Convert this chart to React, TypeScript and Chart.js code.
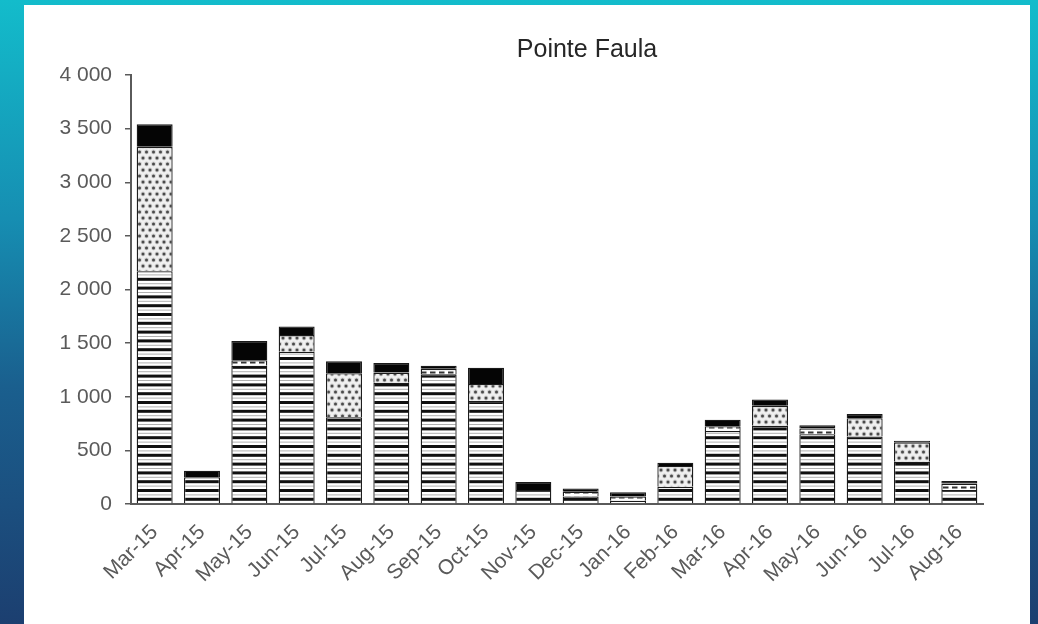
import React, { useEffect, useRef } from "react";
import { Chart, registerables } from "chart.js";

Chart.register(...registerables);

const chartTitle = "Pointe Faula";
const categories = [
  "Mar-15", "Apr-15", "May-15", "Jun-15", "Jul-15", "Aug-15", "Sep-15", "Oct-15", "Nov-15",
  "Dec-15", "Jan-16", "Feb-16", "Mar-16", "Apr-16", "May-16", "Jun-16", "Jul-16", "Aug-16",
];
// stacked bottom -> top
const stripedValues = [2170, 250, 1290, 1420, 810, 1130, 1210, 960, 130, 70, 30, 160, 680, 730, 650, 630, 395, 130];
const dashedValues = [0, 0, 50, 0, 0, 0, 50, 0, 0, 45, 40, 0, 45, 0, 55, 0, 0, 60];
const dottedValues = [1160, 0, 0, 155, 410, 95, 0, 160, 0, 0, 0, 195, 0, 185, 0, 170, 180, 0];
const blackValues = [210, 60, 180, 80, 110, 90, 30, 150, 75, 30, 40, 30, 60, 60, 30, 40, 15, 25];
const yMin = 0;
const yMax = 4000;
const yStep = 500;

const FONT = '"Liberation Sans", Arial, sans-serif';

function makePattern(w: number, h: number, draw: (c: CanvasRenderingContext2D) => void): CanvasPattern {
  const cv = document.createElement("canvas");
  cv.width = w;
  cv.height = h;
  const c = cv.getContext("2d")!;
  draw(c);
  return c.createPattern(cv, "repeat")!;
}

function stripes(c: CanvasRenderingContext2D) {
  c.fillStyle = "#ffffff";
  c.fillRect(0, 0, 8, 44);
  for (let k = 0; k < 5; k++) {
    const y = k * 8.8;
    c.fillStyle = "#101010";
    c.fillRect(0, y, 8, 3);
    c.fillStyle = "#b0b0b0";
    c.fillRect(0, y + 5.4, 8, 1);
  }
}

function dotted(c: CanvasRenderingContext2D) {
  c.fillStyle = "#f0f0f0";
  c.fillRect(0, 0, 14, 12);
  const pts = [[3.5, 3], [10.5, 3], [0, 9], [7, 9], [14, 9]];
  for (const [x, y] of pts) {
    c.fillStyle = "#d0d0d0";
    c.beginPath();
    c.arc(x, y, 2.4, 0, Math.PI * 2);
    c.fill();
    c.fillStyle = "#4a4a4a";
    c.beginPath();
    c.arc(x, y, 1.5, 0, Math.PI * 2);
    c.fill();
  }
}

function dashed(c: CanvasRenderingContext2D) {
  c.fillStyle = "#ffffff";
  c.fillRect(0, 0, 9, 5);
  c.fillStyle = "#333333";
  c.fillRect(1, 1.5, 5.5, 2);
}

function fmt(v: number): string {
  if (v >= 1000) {
    const th = Math.floor(v / 1000);
    const rest = String(v % 1000).padStart(3, "0");
    return `${th} ${rest}`;
  }
  return String(v);
}

const nz = (arr: number[]) => arr.map((v) => (v === 0 ? null : v));

export default function App() {
  const ref = useRef<HTMLCanvasElement | null>(null);

  useEffect(() => {
    if (!ref.current) return;
    const stripePat = makePattern(8, 44, stripes);
    const dotPat = makePattern(14, 12, dotted);
    const dashPat = makePattern(9, 5, dashed);

    const titlePlugin = {
      id: "pfTitle",
      afterDraw(chart: any) {
        const ctx = chart.ctx as CanvasRenderingContext2D;
        ctx.save();
        ctx.font = `25px ${FONT}`;
        ctx.fillStyle = "#262626";
        ctx.textAlign = "center";
        ctx.textBaseline = "alphabetic";
        ctx.fillText(chartTitle, 563, 52);
        ctx.restore();
      },
    };

    const common = { borderColor: "#1a1a1a", borderWidth: 1.3, barPercentage: 0.76, categoryPercentage: 1 };

    const chart = new Chart(ref.current, {
      type: "bar",
      data: {
        labels: categories,
        datasets: [
          { label: "s1", data: nz(stripedValues) as any, backgroundColor: stripePat as any, ...common },
          { label: "s2", data: nz(dashedValues) as any, backgroundColor: dashPat as any, ...common },
          { label: "s3", data: nz(dottedValues) as any, backgroundColor: dotPat as any, ...common },
          { label: "s4", data: nz(blackValues) as any, backgroundColor: "#050505", ...common },
        ],
      },
      options: {
        responsive: false,
        animation: false,
        devicePixelRatio: 1,
        layout: { padding: { top: 70, right: 47, left: 0, bottom: 0 } },
        plugins: { legend: { display: false }, title: { display: false }, tooltip: { enabled: false } },
        scales: {
          x: {
            stacked: true,
            grid: { display: false },
            border: { display: true, color: "#5a5a5a", width: 2 },
            ticks: {
              autoSkip: false,
              minRotation: 45,
              maxRotation: 45,
              padding: 8,
              color: "#5a5a5a",
              font: { family: FONT, size: 21 },
            },
            afterFit: (s: any) => {
              s.height = 120;
            },
          },
          y: {
            stacked: true,
            min: yMin,
            max: yMax,
            grid: { display: true, drawOnChartArea: false, drawTicks: true, tickLength: 6, color: "#5a5a5a", lineWidth: 1.5 },
            border: { display: true, color: "#5a5a5a", width: 2 },
            ticks: {
              stepSize: yStep,
              padding: 13,
              color: "#5a5a5a",
              font: { family: FONT, size: 21 },
              callback: (v: any) => fmt(Number(v)),
            },
            afterFit: (s: any) => {
              s.width = 107;
            },
          },
        },
      },
      plugins: [titlePlugin],
    });
    return () => chart.destroy();
  }, []);

  return (
    <div
      style={{
        position: "fixed",
        left: 0,
        top: 0,
        width: 1038,
        height: 624,
        background: "linear-gradient(to bottom, #13bccb 0%, #168eb2 35%, #1a5f8e 62%, #1c3f70 100%)",
        overflow: "hidden",
      }}
    >
      <div style={{ position: "absolute", left: 24, top: 5, width: 1006, height: 619, background: "#ffffff" }}>
        <canvas ref={ref} width={1006} height={619} style={{ display: "block", width: 1006, height: 619 }} />
      </div>
    </div>
  );
}
